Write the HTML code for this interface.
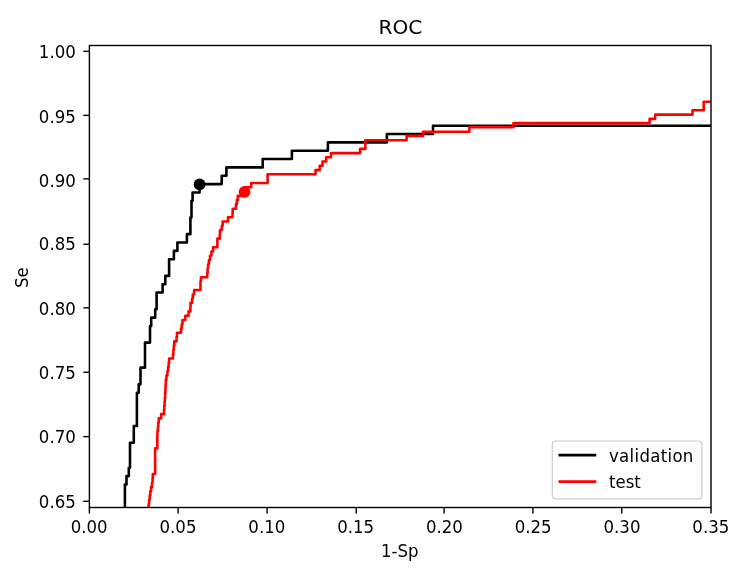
<!DOCTYPE html>
<html><head><meta charset="utf-8"><title>ROC</title>
<style>
html,body{margin:0;padding:0;background:#fff;}
body{width:739px;height:572px;overflow:hidden;}
svg{display:block;}
text{font-family:"DejaVu Sans","Liberation Sans",sans-serif;fill:#000;}
</style></head><body>
<svg width="739" height="572" viewBox="0 0 739 572">
<rect width="739" height="572" fill="#fff"/>

<defs><clipPath id="c"><rect x="89.4" y="45.5" width="621.6" height="462.0"/></clipPath></defs>
<g clip-path="url(#c)" fill="none" stroke-width="2.6" stroke-linejoin="round" stroke-linecap="square">
<polyline stroke="#000" points="124.90,507.50 124.90,484.45 126.50,484.45 126.50,476.11 128.80,476.11 128.80,467.76 130.00,467.76 130.00,442.74 133.80,442.74 133.80,426.05 136.90,426.05 136.90,392.68 138.70,392.68 138.70,384.33 140.50,384.33 140.50,367.65 145.00,367.65 145.00,342.62 150.00,342.62 150.00,325.93 151.20,325.93 151.20,317.59 155.20,317.59 155.20,309.25 156.60,309.25 156.60,292.56 162.60,292.56 162.60,284.22 165.30,284.22 165.30,275.88 169.10,275.88 169.10,259.19 173.90,259.19 173.90,250.85 177.40,250.85 177.40,242.50 186.90,242.50 186.90,234.16 190.40,234.16 190.40,217.47 191.50,217.47 191.50,200.79 192.60,200.79 192.60,192.44 199.55,192.44 199.55,184.10 221.70,184.10 221.70,175.76 226.40,175.76 226.40,167.42 262.70,167.42 262.70,159.07 291.90,159.07 291.90,150.73 327.90,150.73 327.90,142.39 386.90,142.39 386.90,134.04 433.00,134.04 433.00,125.70 712.00,125.70"/>
<polyline stroke="#f00" points="148.66,507.50 148.66,504.02 149.15,504.02 149.15,499.74 149.70,499.74 149.70,495.46 150.30,495.46 150.30,491.18 151.10,491.18 151.10,486.90 152.05,486.90 152.05,482.62 152.60,482.62 152.60,478.34 152.80,478.34 152.80,474.06 155.18,474.06 155.18,469.78 155.15,469.78 155.15,465.50 155.12,465.50 155.12,461.22 155.10,461.22 155.10,456.94 155.10,456.94 155.10,452.66 155.10,452.66 155.10,448.38 157.30,448.38 157.30,444.10 157.30,444.10 157.30,439.82 157.30,439.82 157.30,435.54 157.50,435.54 157.50,431.26 157.90,431.26 157.90,426.98 158.32,426.98 158.32,422.70 158.78,422.70 158.78,418.42 161.20,418.42 161.20,414.14 164.05,414.14 164.05,409.86 164.35,409.86 164.35,405.58 164.63,405.58 164.63,401.30 164.90,401.30 164.90,397.02 165.17,397.02 165.17,392.74 165.40,392.74 165.40,388.46 165.60,388.46 165.60,384.18 165.80,384.18 165.80,379.90 166.40,379.90 166.40,375.62 167.40,375.62 167.40,371.34 168.15,371.34 168.15,367.06 168.65,367.06 168.65,362.78 169.15,362.78 169.15,358.50 173.00,358.50 173.00,354.22 173.40,354.22 173.40,349.94 173.82,349.94 173.82,345.66 174.28,345.66 174.28,341.38 176.53,341.38 176.53,337.10 176.97,337.10 176.97,332.82 181.03,332.82 181.03,328.54 181.68,328.54 181.68,324.26 182.50,324.26 182.50,319.98 185.30,319.98 185.30,315.70 188.55,315.70 188.55,311.42 190.38,311.42 190.38,307.14 190.53,307.14 190.53,302.86 192.15,302.86 192.15,298.58 192.85,298.58 192.85,294.30 194.15,294.30 194.15,290.02 200.50,290.02 200.50,285.74 200.50,285.74 200.50,281.46 200.95,281.46 200.95,277.18 207.28,277.18 207.28,272.90 207.62,272.90 207.62,268.62 208.10,268.62 208.10,264.34 208.95,264.34 208.95,260.06 210.05,260.06 210.05,255.78 211.40,255.78 211.40,251.50 213.05,251.50 213.05,247.22 217.40,247.22 217.40,242.94 217.40,242.94 217.40,238.66 219.72,238.66 219.72,234.38 219.97,234.38 219.97,230.10 221.83,230.10 221.83,225.82 222.68,225.82 222.68,221.54 228.00,221.54 228.00,217.26 232.50,217.26 232.50,212.98 232.70,212.98 232.70,208.70 235.90,208.70 235.90,204.42 236.80,204.42 236.80,200.14 237.80,200.14 237.80,195.86 244.60,195.86 244.60,187.30 251.20,187.30 251.20,183.00 267.60,183.00 267.60,174.30 315.50,174.30 315.50,170.10 319.70,170.10 319.70,165.80 322.50,165.80 322.50,161.50 326.10,161.50 326.10,157.30 331.00,157.30 331.00,153.10 360.10,153.10 360.10,148.90 365.30,148.90 365.30,140.30 406.60,140.30 406.60,135.90 423.00,135.90 423.00,131.70 469.40,131.70 469.40,127.30 513.50,127.30 513.50,123.10 649.60,123.10 649.60,118.90 655.20,118.90 655.20,114.60 692.50,114.60 692.50,110.30 703.70,110.30 703.70,101.80 712.00,101.80"/>
</g>
<circle cx="199.6" cy="184.3" r="5.9" fill="#000"/>
<circle cx="244.6" cy="191.9" r="5.9" fill="#f00"/>
<rect x="89.4" y="45.5" width="621.6" height="462.0" fill="none" stroke="#000" stroke-width="1.4"/>
<line x1="89.40" y1="507.5" x2="89.40" y2="513.6" stroke="#000" stroke-width="1.4"/>
<text transform="translate(89.20,532.90) scale(1,1.04)" font-size="16.6" text-anchor="middle">0.00</text>
<line x1="178.10" y1="507.5" x2="178.10" y2="513.6" stroke="#000" stroke-width="1.4"/>
<text transform="translate(178.00,532.90) scale(1,1.04)" font-size="16.6" text-anchor="middle">0.05</text>
<line x1="267.10" y1="507.5" x2="267.10" y2="513.6" stroke="#000" stroke-width="1.4"/>
<text transform="translate(266.80,532.90) scale(1,1.04)" font-size="16.6" text-anchor="middle">0.10</text>
<line x1="356.20" y1="507.5" x2="356.20" y2="513.6" stroke="#000" stroke-width="1.4"/>
<text transform="translate(355.60,532.90) scale(1,1.04)" font-size="16.6" text-anchor="middle">0.15</text>
<line x1="444.10" y1="507.5" x2="444.10" y2="513.6" stroke="#000" stroke-width="1.4"/>
<text transform="translate(444.40,532.90) scale(1,1.04)" font-size="16.6" text-anchor="middle">0.20</text>
<line x1="532.90" y1="507.5" x2="532.90" y2="513.6" stroke="#000" stroke-width="1.4"/>
<text transform="translate(533.20,532.90) scale(1,1.04)" font-size="16.6" text-anchor="middle">0.25</text>
<line x1="621.80" y1="507.5" x2="621.80" y2="513.6" stroke="#000" stroke-width="1.4"/>
<text transform="translate(622.00,532.90) scale(1,1.04)" font-size="16.6" text-anchor="middle">0.30</text>
<line x1="711.00" y1="507.5" x2="711.00" y2="513.6" stroke="#000" stroke-width="1.4"/>
<text transform="translate(710.80,532.90) scale(1,1.04)" font-size="16.6" text-anchor="middle">0.35</text>
<line x1="83.30000000000001" y1="501.30" x2="89.4" y2="501.30" stroke="#000" stroke-width="1.4"/>
<text transform="translate(75.80,507.80) scale(1,1.04)" font-size="16.6" text-anchor="end">0.65</text>
<line x1="83.30000000000001" y1="436.60" x2="89.4" y2="436.60" stroke="#000" stroke-width="1.4"/>
<text transform="translate(75.80,443.00) scale(1,1.04)" font-size="16.6" text-anchor="end">0.70</text>
<line x1="83.30000000000001" y1="372.25" x2="89.4" y2="372.25" stroke="#000" stroke-width="1.4"/>
<text transform="translate(75.80,379.10) scale(1,1.04)" font-size="16.6" text-anchor="end">0.75</text>
<line x1="83.30000000000001" y1="307.85" x2="89.4" y2="307.85" stroke="#000" stroke-width="1.4"/>
<text transform="translate(75.80,315.30) scale(1,1.04)" font-size="16.6" text-anchor="end">0.80</text>
<line x1="83.30000000000001" y1="244.25" x2="89.4" y2="244.25" stroke="#000" stroke-width="1.4"/>
<text transform="translate(75.80,250.40) scale(1,1.04)" font-size="16.6" text-anchor="end">0.85</text>
<line x1="83.30000000000001" y1="178.85" x2="89.4" y2="178.85" stroke="#000" stroke-width="1.4"/>
<text transform="translate(75.80,186.60) scale(1,1.04)" font-size="16.6" text-anchor="end">0.90</text>
<line x1="83.30000000000001" y1="115.40" x2="89.4" y2="115.40" stroke="#000" stroke-width="1.4"/>
<text transform="translate(75.80,122.70) scale(1,1.04)" font-size="16.6" text-anchor="end">0.95</text>
<line x1="83.30000000000001" y1="51.35" x2="89.4" y2="51.35" stroke="#000" stroke-width="1.4"/>
<text transform="translate(75.80,57.50) scale(1,1.04)" font-size="16.6" text-anchor="end">1.00</text>
<text x="400.40" y="33.6" font-size="20.1" text-anchor="middle">ROC</text>
<text transform="translate(399.70,557.00) scale(1,1.04)" font-size="16.6" text-anchor="middle">1-Sp</text>
<text transform="translate(28.3,277.70) rotate(-90) scale(1,1.04)" font-size="16.6" text-anchor="middle">Se</text>
<rect x="552.3" y="441" width="149.6" height="57.8" rx="3.3" ry="3.3" fill="#fff" fill-opacity="0.8" stroke="#ccc" stroke-width="1.2"/>
<line x1="558.5" y1="455.1" x2="596.3" y2="455.1" stroke="#000" stroke-width="2.6"/>
<line x1="558.5" y1="481.6" x2="596.3" y2="481.6" stroke="#f00" stroke-width="2.6"/>
<text transform="translate(609.00,461.80) scale(1,1.04)" font-size="16.6" text-anchor="start" letter-spacing="0.3">validation</text>
<text transform="translate(609.00,488.00) scale(1,1.04)" font-size="16.6" text-anchor="start">test</text>
</svg></body></html>
